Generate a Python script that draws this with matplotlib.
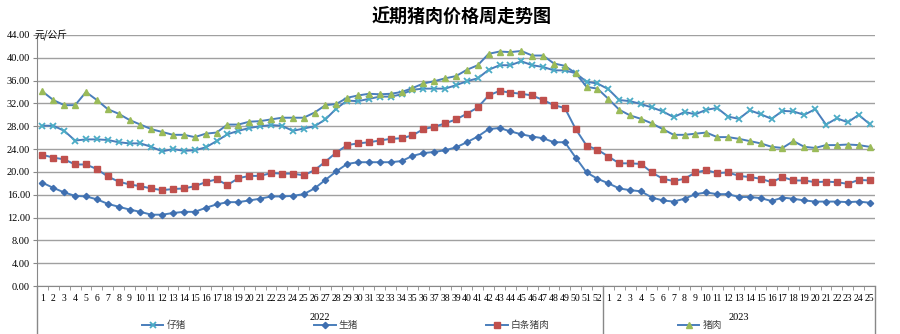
import numpy as np
import matplotlib
matplotlib.use("Agg")
import matplotlib.pyplot as plt
from matplotlib.lines import Line2D
import matplotlib.transforms as mtransforms

plt.rcParams['font.family'] = ['Noto Sans CJK SC', 'DejaVu Sans']

## weekly prices, 2022 wk1-52 then 2023 wk1-25
weeks = list(range(1, 53)) + list(range(1, 26))
years = ["2022", "2023"]

piglet = [28.1, 28.1, 27.2, 25.5, 25.7, 25.7, 25.6, 25.2, 25.0, 25.0,
          24.4, 23.6, 24.0, 23.7, 23.8, 24.3, 25.4, 26.6, 27.2, 27.7,
          28.0, 28.2, 28.1, 27.2, 27.6, 28.0, 29.2, 31.1, 32.5, 32.4,
          32.8, 33.2, 33.2, 33.6, 34.4, 34.6, 34.6, 34.6, 35.2, 35.9,
          36.4, 37.9, 38.7, 38.7, 39.4, 38.7, 38.4, 37.8, 37.8, 37.3,
          35.8, 35.5,
          34.5, 32.6, 32.4, 31.9, 31.3, 30.6, 29.6, 30.5, 30.1, 30.9,
          31.2, 29.7, 29.3, 30.8, 30.1, 29.3, 30.7, 30.6, 30.0, 31.0,
          28.3, 29.4, 28.7, 30.0, 28.4]

hog = [18.1, 17.2, 16.4, 15.8, 15.7, 15.2, 14.4, 13.9, 13.4, 13.0,
       12.5, 12.5, 12.8, 13.0, 13.0, 13.7, 14.3, 14.7, 14.7, 15.0,
       15.3, 15.7, 15.7, 15.8, 16.1, 17.1, 18.6, 20.1, 21.4, 21.7,
       21.7, 21.7, 21.7, 21.9, 22.8, 23.3, 23.5, 23.8, 24.3, 25.2,
       26.2, 27.5, 27.7, 27.1, 26.6, 26.2, 25.9, 25.2, 25.2, 22.5,
       19.9, 18.8,
       18.0, 17.1, 16.8, 16.6, 15.5, 15.0, 14.8, 15.3, 16.1, 16.4,
       16.1, 16.1, 15.6, 15.6, 15.4, 14.9, 15.5, 15.3, 15.0, 14.8,
       14.8, 14.8, 14.7, 14.8, 14.6]

carcass = [23.0, 22.5, 22.2, 21.3, 21.3, 20.5, 19.2, 18.3, 17.8, 17.5,
           17.1, 16.8, 17.0, 17.1, 17.5, 18.2, 18.7, 17.7, 18.9, 19.3,
           19.3, 19.8, 19.7, 19.7, 19.4, 20.3, 21.8, 23.4, 24.7, 25.0,
           25.2, 25.5, 25.8, 25.9, 26.4, 27.5, 27.9, 28.5, 29.2, 30.2,
           31.3, 33.4, 34.2, 33.9, 33.7, 33.4, 32.6, 31.7, 31.2, 27.5,
           24.6, 23.9,
           22.7, 21.5, 21.5, 21.4, 19.9, 18.8, 18.4, 18.8, 19.9, 20.3,
           19.8, 19.9, 19.3, 19.1, 18.8, 18.2, 19.1, 18.5, 18.5, 18.2,
           18.3, 18.2, 17.9, 18.6, 18.5]

pork = [34.1, 32.6, 31.7, 31.7, 34.0, 32.6, 31.0, 30.2, 29.1, 28.3,
        27.5, 27.0, 26.5, 26.5, 26.1, 26.7, 26.9, 28.3, 28.3, 28.8,
        28.9, 29.2, 29.5, 29.5, 29.5, 30.4, 31.7, 31.9, 33.0, 33.4,
        33.7, 33.6, 33.7, 34.0, 34.7, 35.5, 35.9, 36.4, 36.8, 37.9,
        38.7, 40.7, 41.1, 41.0, 41.2, 40.4, 40.4, 39.0, 38.6, 37.3,
        34.9, 34.6,
        32.8, 30.9, 29.9, 29.3, 28.5, 27.5, 26.5, 26.5, 26.7, 26.9,
        26.1, 26.1, 25.8, 25.4, 25.0, 24.4, 24.2, 25.4, 24.4, 24.2,
        24.7, 24.7, 24.8, 24.7, 24.4]

n = len(weeks)
x = np.arange(n)
n_2022 = 52

fig = plt.figure(figsize=(9, 3.34), dpi=100)
ax = fig.add_axes([37/900, 48/334, 838/900, 251/334])

line_c = '#4A7EBB'
series = [
    ("仔猪", piglet, dict(marker='x', ms=4, mew=1.3, mfc='#4BACC6', mec='#4BACC6')),
    ("生猪", hog, dict(marker='D', ms=3.2, mfc='#3F6FB0', mec='#3F6FB0')),
    ("白条猪肉", carcass, dict(marker='s', ms=4.5, mfc='#C0504D', mec='#C0504D')),
    ("猪肉", pork, dict(marker='^', ms=5, mfc='#9BBB59', mec='#9BBB59')),
]
handles = []
for name, vals, mk in series:
    h, = ax.plot(x, vals, color=line_c, lw=1.4, label=name, zorder=3, **mk)
    handles.append(h)

ax.set_xlim(-0.5, n - 0.5)
ax.set_ylim(0, 44)
yt = np.arange(0, 45, 4)
ax.set_yticks(yt)
ax.set_yticklabels([f"{v:.2f}" for v in yt], family='Liberation Serif', fontsize=7.5)
ax.yaxis.grid(True, color='#a0a0a0', lw=1.0)
ax.set_axisbelow(True)
ax.tick_params(axis='y', length=3, color='#888888', pad=2)

ax.set_xticks(x)
ax.set_xticklabels([str(w) for w in weeks], family='Liberation Serif', fontsize=7)
ax.set_xticks(np.arange(-0.5, n, 1), minor=True)
ax.tick_params(axis='x', which='major', length=0, pad=6)
ax.tick_params(axis='x', which='minor', length=3, color='#888888')

for s in ['top', 'right']:
    ax.spines[s].set_visible(False)
ax.spines['left'].set_color('#888888')
ax.spines['bottom'].set_color('#888888')

# multi-level category separators and year labels
trans = mtransforms.blended_transform_factory(ax.transData, ax.transAxes)
for xb in [-0.5, n_2022 - 0.5, n - 0.5]:
    ax.plot([xb, xb], [0, -0.2], transform=trans, color='#888888', lw=1, clip_on=False)
ax.text((n_2022 - 1) / 2, -0.125, years[0], transform=trans, ha='center', va='center',
        family='Liberation Serif', fontsize=7.5)
ax.text((n_2022 + n - 1) / 2, -0.125, years[1], transform=trans, ha='center', va='center',
        family='Liberation Serif', fontsize=7.5)

ax.text(-0.003, 1.0, "元/公斤", transform=ax.transAxes, ha='left', va='center', fontsize=7)

fig.text(0.513, 0.948, "近期猪肉价格周走势图", ha='center', va='center',
         fontsize=13, fontweight='bold')

fig.legend(handles, [s[0] for s in series], ncol=4, loc='center left',
           bbox_to_anchor=(142/900, 1 - 325/334), frameon=False,
           prop={'size': 7}, labelcolor='#404040', columnspacing=13.2,
           handlelength=2.2, handletextpad=0.3, borderpad=0, borderaxespad=0)

fig.savefig("out.png", dpi=100)
